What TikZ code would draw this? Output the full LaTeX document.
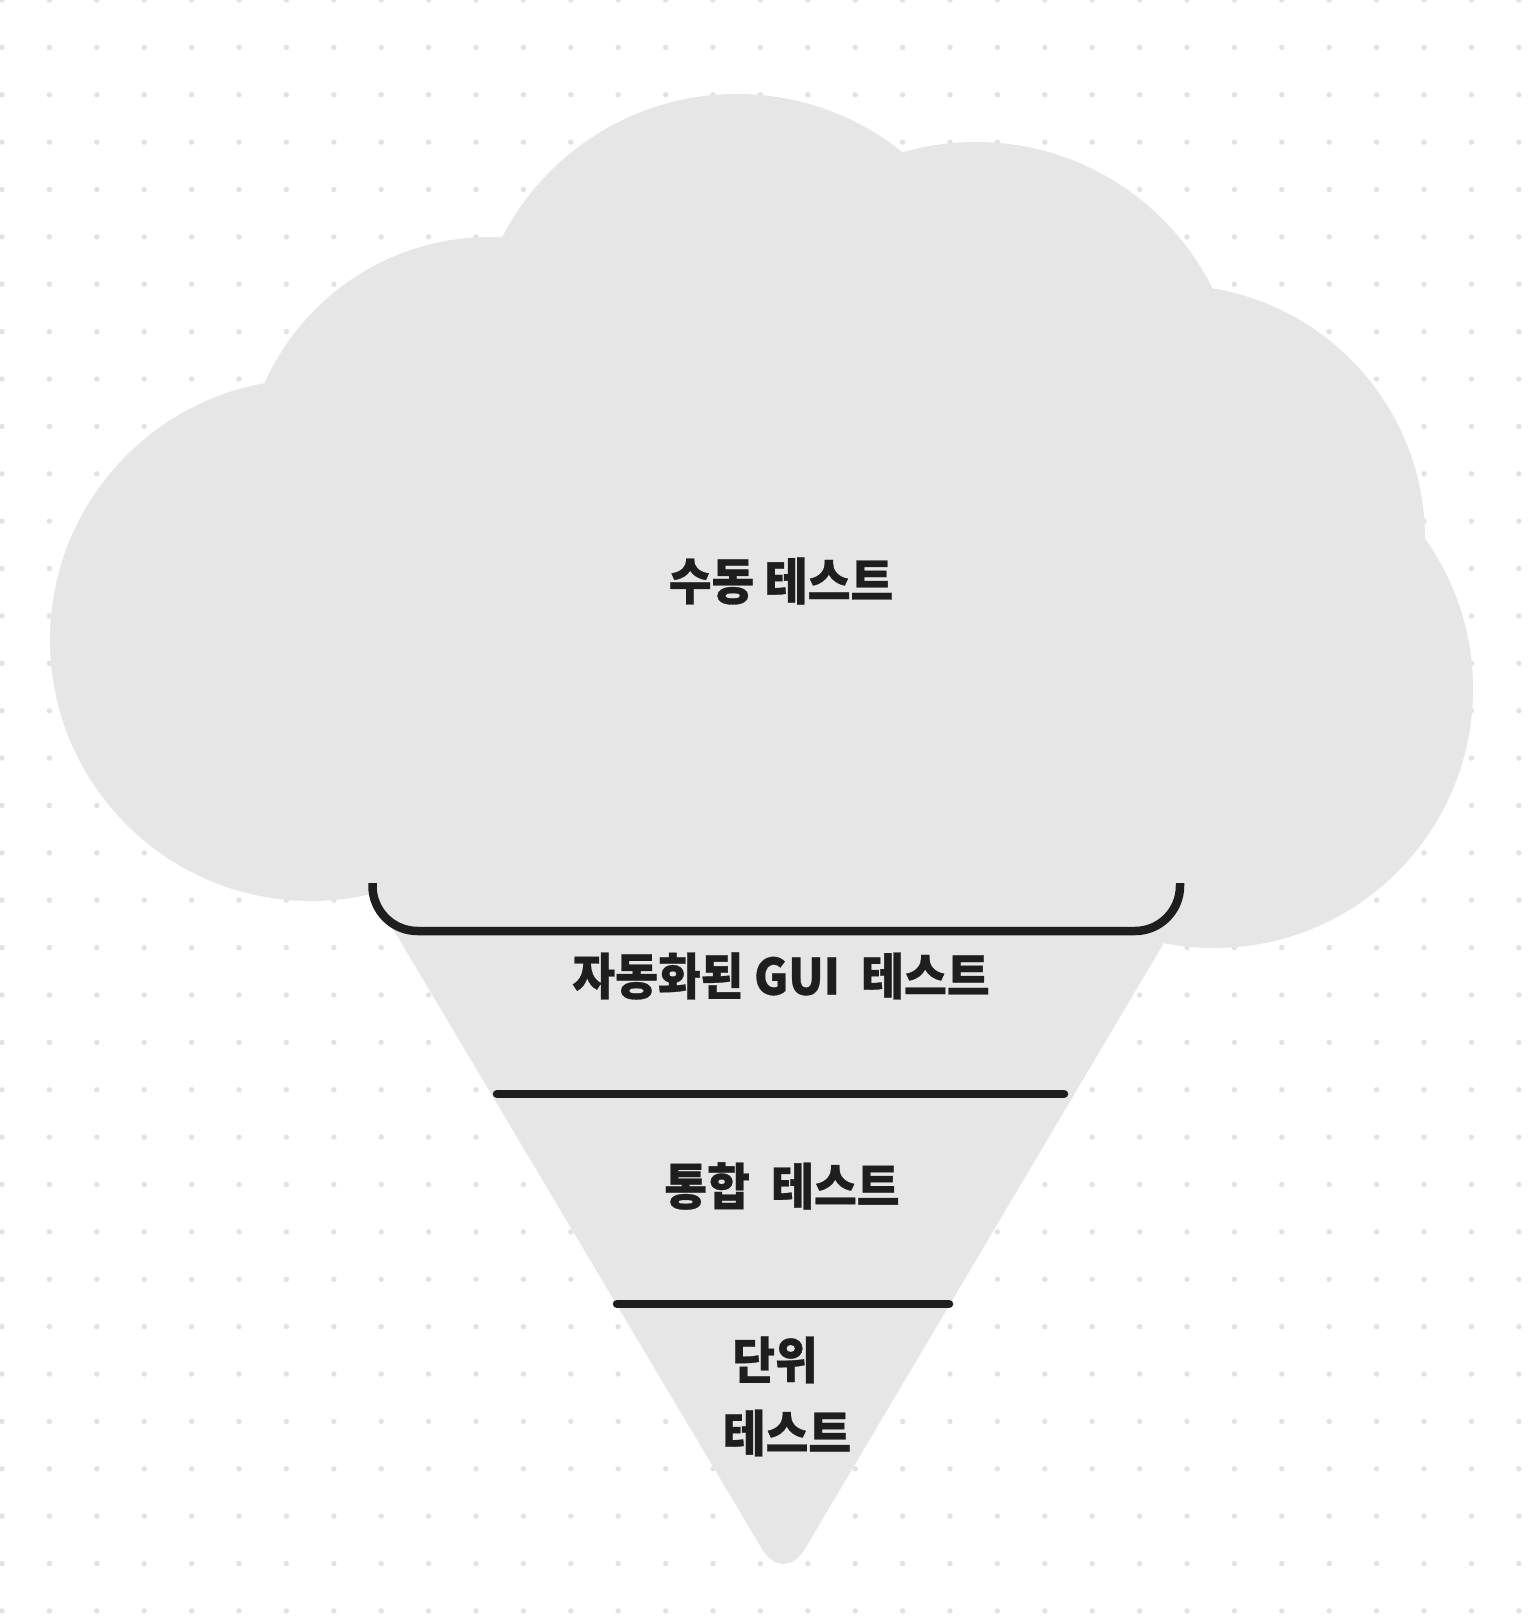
\documentclass[tikz,border=0pt]{standalone}
\usepackage{fontspec}
\setmainfont{Noto Sans CJK KR}[FakeStretch=0.93]
\definecolor{shapec}{HTML}{E6E6E6}
\definecolor{dotc}{HTML}{E2E2E2}
\definecolor{inkc}{HTML}{1E1E1E}
\begin{document}
\begin{tikzpicture}[x=1pt,y=-1pt,
  shapefill/.style={fill=shapec},
  thickline/.style={draw=inkc,line width=8.5pt},
  label/.style={text=inkc,font=\bfseries\addfontfeatures{FakeBold=0.6}\fontsize{50}{56}\selectfont,inner sep=0pt,anchor=center}]
\useasboundingbox (0,0) rectangle (1528,1624);
\fill[white] (0,0) rectangle (1528,1624);
% dot grid
\foreach \i in {0,...,32}{
  \foreach \j in {0,...,34}{
    \fill[dotc] ({2+47.4*\i},{47.38*\j}) circle (2.7);
  }
}
% cone
\fill[shapefill,rounded corners=42pt] (352,860) -- (1213,860) -- (783.5,1585) -- cycle;
% cloud
\fill[shapefill] (311,640) circle (261);
\fill[shapefill] (490,484) circle (247);
\fill[shapefill] (737,358) circle (264);
\fill[shapefill] (976,406) circle (264);
\fill[shapefill] (1171,539) circle (254);
\fill[shapefill] (1214,689) circle (259);
\fill[shapefill] (311,640) -- (490,484) -- (737,358) -- (976,406) -- (1171,539) -- (1214,689) -- (1190,905) -- (385,905) -- cycle;
% bracket
\coordinate (bl) at (372.5,883);
\coordinate (br) at (1180,883);
\draw[thickline,rounded corners=45pt] (bl) -- (372.5,931) -- (1180,931) -- (br);
% dividers
\coordinate (d1a) at (497,1094);
\coordinate (d1b) at (1064,1094);
\coordinate (d2a) at (617,1304);
\coordinate (d2b) at (949,1304);
\draw[thickline,line cap=round] (d1a) -- (d1b);
\draw[thickline,line cap=round] (d2a) -- (d2b);
% labels
\node[label] (manual) at (781,581) {수동 테스트};
\node[label] (gui) at (781,976) {자동화된 GUI\ \ 테스트};
\node[label] (integ) at (782,1186) {통합\ \ 테스트};
\node[label] (unit1) at (775,1360) {단위};
\node[label] (unit2) at (787,1433) {테스트};
\end{tikzpicture}
\end{document}
